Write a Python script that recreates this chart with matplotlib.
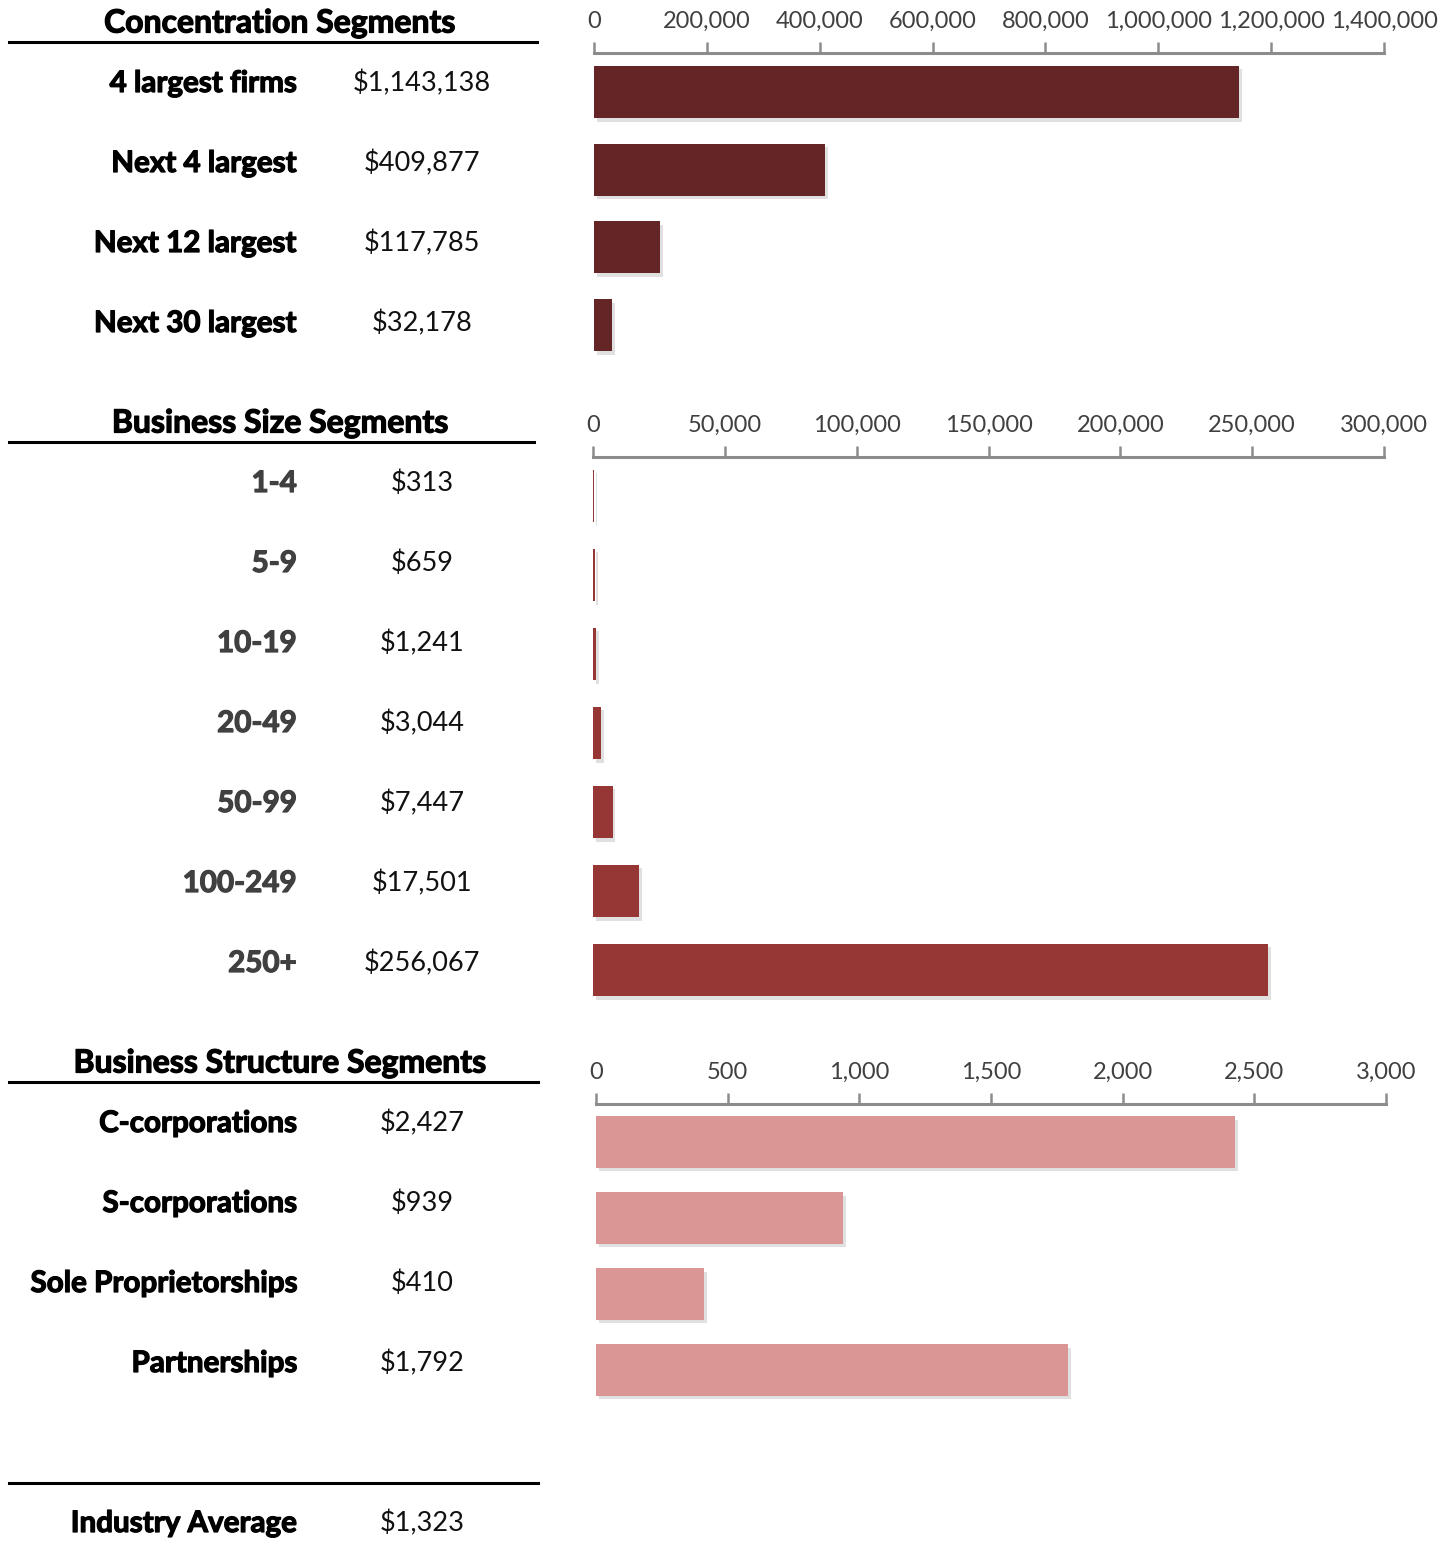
import matplotlib.pyplot as plt
import matplotlib.patheffects as pe
from matplotlib.lines import Line2D

plt.rcParams['font.family'] = ['Lato', 'DejaVu Sans']

# data
conc_labels = ['4 largest firms', 'Next 4 largest', 'Next 12 largest', 'Next 30 largest']
conc_values = [1143138, 409877, 117785, 32178]
conc_ticks = [0, 200000, 400000, 600000, 800000, 1000000, 1200000, 1400000]

size_labels = ['1-4', '5-9', '10-19', '20-49', '50-99', '100-249', '250+']
size_values = [313, 659, 1241, 3044, 7447, 17501, 256067]
size_ticks = [0, 50000, 100000, 150000, 200000, 250000, 300000]

struct_labels = ['C-corporations', 'S-corporations', 'Sole Proprietorships', 'Partnerships']
struct_values = [2427, 939, 410, 1792]
struct_ticks = [0, 500, 1000, 1500, 2000, 2500, 3000]

industry_avg = 1323

W, H = 1455, 1555
fig = plt.figure(figsize=(W / 100, H / 100), dpi=100)


def fx(px):
    return px / W


def fy(py):
    return 1 - py / H


shadow = [pe.SimplePatchShadow(offset=(2, -2.5), shadow_rgbFace='#999999', alpha=0.3), pe.Normal()]


def heavy(c):
    # thicken Lato Bold a little, the original uses a heavier weight
    return [pe.withStroke(linewidth=0.9, foreground=c)]


def panel(title, title_y, line_y, line_x2, labels, values, ticks, color, lab_color,
          x0, x1, c0, step, label_y0, label_step, bar_h):
    # title and rule
    fig.text(fx(280), fy(title_y), title, ha='center', va='center', fontsize=23,
             fontweight='bold', color='black', path_effects=heavy('black'))
    fig.add_artist(Line2D([fx(9), fx(line_x2)], [fy(line_y), fy(line_y)], color='black', lw=2.2))
    for i, (lab, v) in enumerate(zip(labels, values)):
        y = label_y0 + i * label_step
        fig.text(fx(297), fy(y), lab, ha='right', va='center', fontsize=21.3,
                 fontweight='bold', color=lab_color, path_effects=heavy(lab_color))
        fig.text(fx(422), fy(y), '${:,}'.format(v), ha='center', va='center',
                 fontsize=19.5, color='#111111')
    n = len(values)
    top = c0 - step / 2
    bot = c0 + (n - 1) * step + step / 2
    ax = fig.add_axes([fx(x0), fy(bot), fx(x1) - fx(x0), (bot - top) / H])
    bars = ax.barh(range(n), values, height=bar_h, color=color)
    for b in bars:
        b.set_path_effects(shadow)
    ax.set_ylim(n - 0.5, -0.5)
    ax.set_xlim(ticks[0], ticks[-1])
    ax.set_xticks(ticks)
    ax.set_xticklabels(['{:,}'.format(t) for t in ticks])
    ax.xaxis.tick_top()
    ax.tick_params(axis='x', direction='out', length=8, width=1.8, color='#8c8c8c',
                   pad=7, labelsize=17, labelcolor='#404040')
    ax.set_yticks([])
    for s in ['left', 'right', 'bottom']:
        ax.spines[s].set_visible(False)
    ax.spines['top'].set_color('#8c8c8c')
    ax.spines['top'].set_linewidth(2.2)
    ax.patch.set_visible(False)
    return ax


panel('Concentration Segments', 23, 42, 537, conc_labels, conc_values, conc_ticks,
      '#632526', 'black', 594, 1384, 92, 77.7, 83, 80, 0.67)
panel('Business Size Segments', 423, 442, 534, size_labels, size_values, size_ticks,
      '#963735', '#404040', 593, 1384, 496, 79, 483, 80, 0.67)
panel('Business Structure Segments', 1063, 1082, 538, struct_labels, struct_values, struct_ticks,
      '#d99694', 'black', 596, 1386, 1142, 76, 1123, 80, 0.68)

# industry average
fig.add_artist(Line2D([fx(9), fx(538)], [fy(1483), fy(1483)], color='black', lw=2.2))
fig.text(fx(297), fy(1523), 'Industry Average', ha='right', va='center', fontsize=21.3,
         fontweight='bold', color='black', path_effects=heavy('black'))
fig.text(fx(422), fy(1523), '${:,}'.format(industry_avg), ha='center', va='center',
         fontsize=19.5, color='#111111')

fig.savefig('out.png', dpi=100)
